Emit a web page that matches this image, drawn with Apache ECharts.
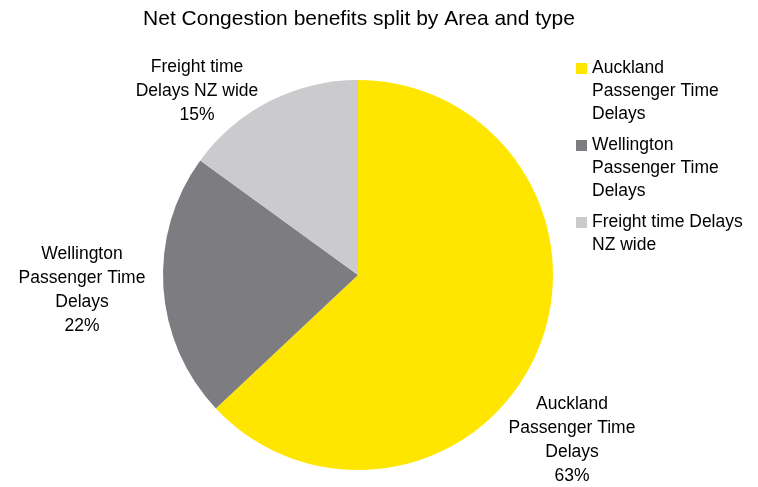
<!DOCTYPE html>
<html>
<head>
<meta charset="utf-8">
<script src="https://cdn.jsdelivr.net/npm/echarts@6/dist/echarts.min.js"></script>
<style>
html,body{margin:0;padding:0;background:#fff;}
#chart{width:758px;height:487px;}
</style>
</head>
<body>
<div id="chart"></div>
<script>
// Net congestion benefit shares by area and type
const categories = [
  'Auckland\nPassenger Time\nDelays',
  'Wellington\nPassenger Time\nDelays',
  'Freight time Delays\nNZ wide'
];
const labelNames = [
  'Auckland\nPassenger Time\nDelays',
  'Wellington\nPassenger Time\nDelays',
  'Freight time\nDelays NZ wide'
];
const shares = [63, 22, 15];
const colors = ['#FFE600', '#7D7D81', '#CBCBCE'];

const FONT = '"Liberation Sans Narrow", "Arial Narrow", "Liberation Sans", Arial, sans-serif';

// label anchor points (centre of each label block)
const labelSpots = [
  { x: 572, y: 440 },
  { x: 82, y: 290 },
  { x: 197, y: 91 }
];

// legend swatch: a square aligned with the first text line of a tall item.
// Two near-invisible dots stretch the path's bounds to the full item height.
const LEGEND_LINES = 3;
const LEGEND_ROW = 69;
const SWATCH = 'path://M0,0h0.01v0.01h-0.01Z M0,6h11v11h-11Z M0,' +
  (LEGEND_ROW - 0.01) + 'h0.01v0.01h-0.01Z';

const chart = echarts.init(document.getElementById('chart'));
chart.setOption({
  animation: false,
  title: {
    text: 'Net Congestion benefits split by Area and type',
    left: 354, top: 4, textAlign: 'center',
    textStyle: { fontFamily: FONT, fontSize: 21, fontWeight: 'normal', color: '#000' }
  },
  legend: {
    orient: 'vertical',
    left: 576, top: 57, padding: 0,
    itemWidth: 11, itemHeight: LEGEND_ROW, itemGap: 8,
    icon: SWATCH,
    textStyle: { fontFamily: FONT, fontSize: 17.5, color: '#000', lineHeight: 23 },
    // pad shorter entries so every entry's text starts at the top of its row
    formatter: function (name) {
      const n = name.split('\n').length;
      return n < LEGEND_LINES ? name + '\n '.repeat(LEGEND_LINES - n) : name;
    },
    data: categories
  },
  series: [{
    type: 'pie',
    center: [358, 275],
    radius: [0, 195],
    startAngle: 90,
    clockwise: true,
    silent: true,
    data: shares.map((v, i) => ({
      name: categories[i],
      value: v,
      itemStyle: { color: colors[i] },
      label: { formatter: labelNames[i] + '\n' + v + '%' }
    })),
    label: {
      show: true,
      position: 'outside',
      overflow: 'none',
      fontFamily: FONT, fontSize: 17.5, color: '#000',
      lineHeight: 24, align: 'center'
    },
    labelLine: { show: false },
    labelLayout: function (p) {
      const s = labelSpots[p.dataIndex];
      return { x: s.x, y: s.y, align: 'center', verticalAlign: 'middle' };
    }
  }]
});
</script>
</body>
</html>
